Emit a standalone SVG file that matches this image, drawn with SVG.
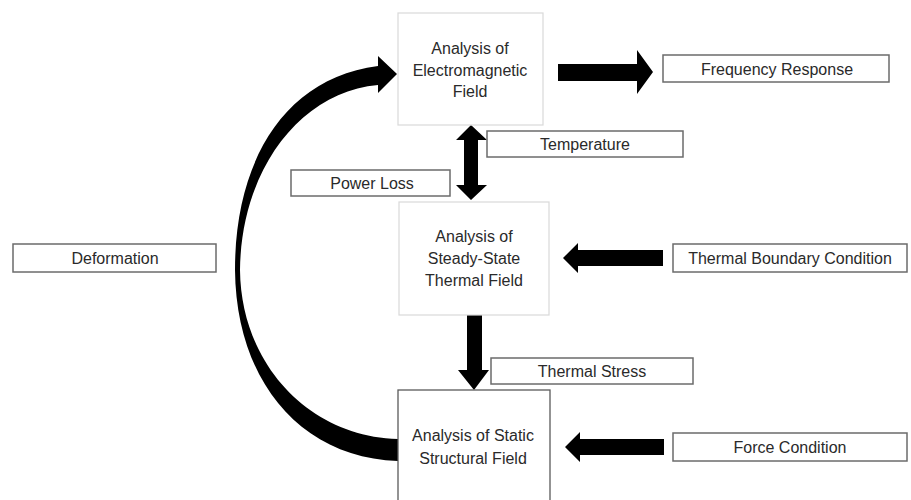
<svg xmlns="http://www.w3.org/2000/svg" width="911" height="500" viewBox="0 0 911 500">
<style>
text{font-family:"Liberation Sans",Arial,sans-serif;font-size:16px;fill:#2a2a2a;text-anchor:middle;dominant-baseline:central}
.main{fill:#fff;stroke:#d9d9d9;stroke-width:1.2}
.dark{fill:#fff;stroke:#5a5a5a;stroke-width:1.3}
.lbl{fill:#fff;stroke:#6b6b6b;stroke-width:1.5}
.arr{fill:#000;stroke:none}
</style>
<rect width="911" height="500" fill="#fff"/>
<g id="connectors">
<path class="arr" d="M398 461 C300 458 236 380 235 270 C235 160 285 78 378 66 L378 56 L397 74 L378 93 L378 85 C300 92 241 170 240 270 C241 365 310 437 398 439 Z"/>
<polygon class="arr" points="558,64 637,64 637,50 653,72 637,94 637,81 558,81"/>
<polygon class="arr" points="471,125 487,140 478,140 478,185 487,185 471,200 456,185 464,185 464,140 456,140"/>
<polygon class="arr" points="467,315 482,315 482,370 489,370 474,390 458,370 467,370"/>
<polygon class="arr" points="563,258 578,243 578,250 663,250 663,266 578,266 578,273"/>
<polygon class="arr" points="565,447 580,432 580,439 664,439 664,455 580,455 580,462"/>
</g>
<g id="em">
<rect class="main" x="398" y="13" width="145" height="112"/>
<text x="470" y="48">Analysis of</text>
<text x="470" y="70">Electromagnetic</text>
<text x="470" y="91">Field</text>
</g>
<g id="thermal">
<rect class="main" x="399" y="202" width="150" height="113"/>
<text x="474" y="236">Analysis of</text>
<text x="474" y="258">Steady-State</text>
<text x="474" y="280">Thermal Field</text>
</g>
<g id="structural">
<rect class="dark" x="398" y="390" width="152" height="130"/>
<text x="473" y="435">Analysis of Static</text>
<text x="473" y="458">Structural Field</text>
</g>
<g id="frequency">
<rect class="lbl" x="663" y="55" width="226" height="27"/>
<text x="777" y="69">Frequency Response</text>
</g>
<g id="temperature">
<rect class="lbl" x="487" y="131" width="196" height="26"/>
<text x="585" y="144">Temperature</text>
</g>
<g id="powerloss">
<rect class="lbl" x="291" y="170" width="159" height="26"/>
<text x="372" y="183">Power Loss</text>
</g>
<g id="deformation">
<rect class="lbl" x="13" y="244" width="203" height="28"/>
<text x="115" y="258">Deformation</text>
</g>
<g id="tbc">
<rect class="lbl" x="673" y="244" width="234" height="28"/>
<text x="790" y="258">Thermal Boundary Condition</text>
</g>
<g id="thermalstress">
<rect class="lbl" x="491" y="358" width="202" height="26"/>
<text x="592" y="371">Thermal Stress</text>
</g>
<g id="force">
<rect class="lbl" x="673" y="433" width="234" height="28"/>
<text x="790" y="447">Force Condition</text>
</g>
</svg>
